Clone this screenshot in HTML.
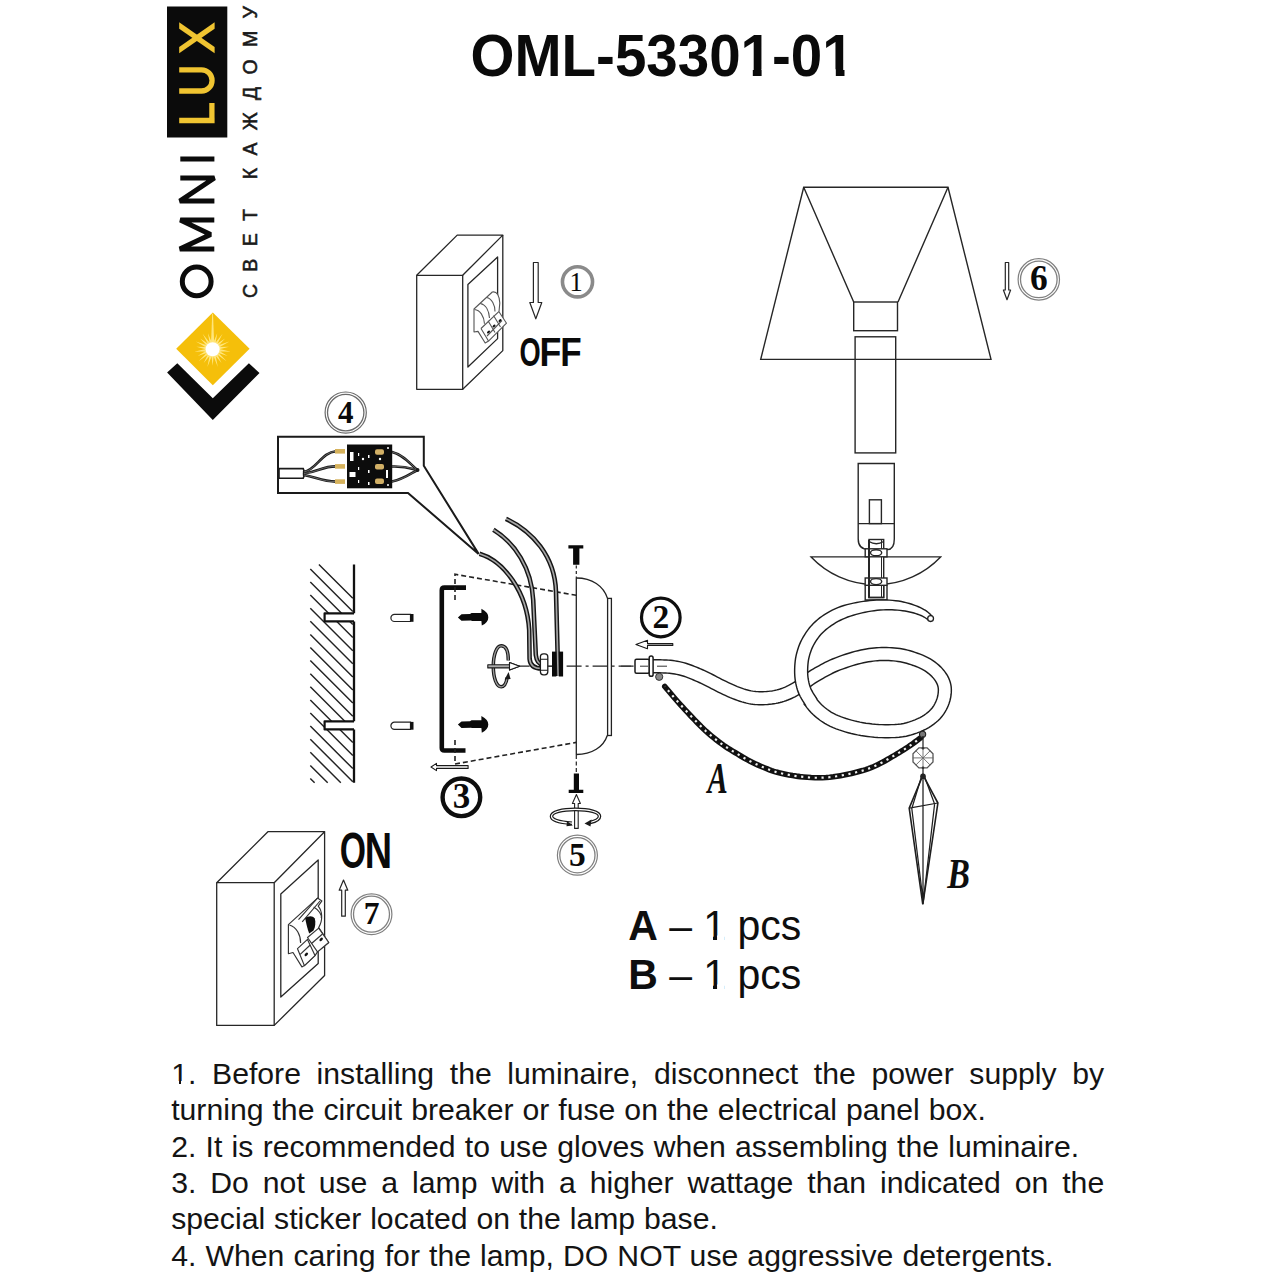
<!DOCTYPE html>
<html><head><meta charset="utf-8">
<style>
html,body{margin:0;padding:0;background:#fff;}
body{width:1280px;height:1280px;position:relative;overflow:hidden;font-family:"Liberation Sans",sans-serif;}
svg{position:absolute;left:0;top:0;}
.t{position:absolute;white-space:nowrap;color:#151515;font-family:"Liberation Sans",sans-serif;font-size:30px;line-height:36px;left:171.2px;color:#141414;}
</style></head><body>
<svg width="1280" height="1280" viewBox="0 0 1280 1280">
<rect x="167" y="6.5" width="60.3" height="131" fill="#0b0b0b"/>
<g fill="none" stroke="#f0c431" stroke-width="5.3">
  <path d="M179.2 120.5H214.6M211.9 123.2V103.1"/>
  <path d="M179.2 69.9H201.5A10.55 10.55 0 0 1 201.5 91H179.2"/>
</g>
<path d="M179.2 22.3L179.2 28.7L214.6 53.3L214.6 46.9Z" fill="#f0c431"/><path d="M179.2 53.3L179.2 46.9L214.6 22.3L214.6 28.7Z" fill="#f0c431"/>
<g fill="none" stroke="#0b0b0b" stroke-width="5" stroke-linejoin="bevel">
  <path d="M180.3 159.1H214.4"/>
  <path d="M180.3 178H214.4L179.8 201.1H214.4"/>
  <path d="M214.3 219.9H180.3L210.6 234.6L179.8 249.1H214.3"/>
  <circle cx="196.7" cy="281.4" r="14.4"/>
</g>
<path d="M212.8 312.6L249.6 348.8L212.8 385.3L176.2 348.8Z" fill="#f5bf0a"/>
<path d="M167.1 372.6L177.3 363.3L212.8 398.3L248.9 363.3L259.5 373.1L212.8 419.9Z" fill="#0b0b0b"/>
<path d="M213.85 343.20L212.60 330.70L211.35 343.20ZM215.49 343.80L217.25 333.37L213.09 343.09ZM216.90 344.83L222.60 333.64L214.79 343.48ZM217.95 346.22L225.07 338.39L216.32 344.33ZM218.58 347.84L229.43 341.51L217.54 345.57ZM218.72 349.58L228.93 346.85L218.36 347.11ZM218.36 351.29L230.91 351.83L218.72 348.82ZM217.54 352.83L227.61 356.05L218.58 350.56ZM216.32 354.07L226.58 361.31L217.95 352.18ZM214.79 354.92L221.52 363.08L216.90 353.57ZM213.09 355.31L217.81 366.95L215.49 354.60ZM211.35 355.20L212.60 365.70L213.85 355.20ZM209.71 354.60L207.39 366.95L212.11 355.31ZM208.30 353.57L203.68 363.08L210.41 354.92ZM207.25 352.18L198.62 361.31L208.88 354.07ZM206.62 350.56L197.59 356.05L207.66 352.83ZM206.48 348.82L194.29 351.83L206.84 351.29ZM206.84 347.11L196.27 346.85L206.48 349.58ZM207.66 345.57L195.77 341.51L206.62 347.84ZM208.88 344.33L200.13 338.39L207.25 346.22ZM210.41 343.48L202.60 333.64L208.30 344.83ZM212.11 343.09L207.95 333.37L209.71 343.80Z" fill="#ffe57a"/>
<path d="M210.79999999999998 349.2L212.2 313.8L213.0 313.8L214.4 349.2Z" fill="#ffe57a"/>
<circle cx="212.6" cy="349.2" r="7" fill="#fff"/>
<text transform="translate(257 298) rotate(-90)" font-family="Liberation Sans" font-size="19.5" fill="#1a1a1a" stroke="#1a1a1a" stroke-width="0.55" textLength="292" lengthAdjust="spacing">СВЕТ КАЖДОМУ</text>
<text x="0" y="0" transform="translate(470.6 75.6) scale(1 1.04)" font-family="Liberation Sans" font-weight="bold" font-size="56.5" fill="#0a0a0a">OML-53301-01</text>
<g fill="#fff"><rect x="742" y="69.4" width="10.8" height="8"/><rect x="761.6" y="69.4" width="10.5" height="8"/><rect x="825" y="69.4" width="10.8" height="8"/><rect x="844.5" y="69.4" width="10.5" height="8"/></g>
<g fill="none" stroke="#262626" stroke-width="1.3" stroke-linejoin="round">
<path d="M416.7 275.3H462.7V389.3H416.7Z"/>
<path d="M416.7 275.3L457.2 235.1H502.8L462.7 275.3"/>
<path d="M502.8 235.1V350.6L462.7 389.3"/>
<path d="M467.9 284.5L497.6 257V338.6L467.9 367Z"/>
</g>
<g fill="#fff" stroke="#555" stroke-width="1.1" stroke-linejoin="round">
<path d="M474 309L492.3 292C497 291 499.5 296 499.8 303L499 311.7L506.5 323.2L489 340.7L485.2 343L478 331.4L474 332Z"/>
<path d="M474.5 309.5C480 310 484 316 484.5 323.8M480.3 303.5C486 304.5 489 311 489.5 318M486.5 297.5C492 298.5 495 305 495 311.5" fill="none"/>
<path d="M481 328.5L498.8 311.7M487 336L502 320.5M481 328.5L488.5 341M488 320.8L495 332.5M493.5 315.5L500.5 327" fill="none"/>
</g>
<g fill="#111"><ellipse cx="488.5" cy="332" rx="1.8" ry="1.1" transform="rotate(-45 488.5 332)"/><ellipse cx="494" cy="326" rx="1.8" ry="1.1" transform="rotate(-45 494 326)"/><ellipse cx="500" cy="320.5" rx="1.8" ry="1.1" transform="rotate(-45 500 320.5)"/></g>
<path d="M533.4 262.5H538.2V302.5H541.8L535.8 318.8L529.8 302.5H533.4Z" fill="#fff" stroke="#262626" stroke-width="1.2" stroke-linejoin="round"/>
<circle cx="577.5" cy="281.8" r="15.05" fill="#fff" stroke="#8a8a8a" stroke-width="3.6"/><text x="576.1" y="290.6" text-anchor="middle" font-family="Liberation Serif" font-weight="normal" font-size="26.5" fill="#0a0a0a">1</text>
<text x="0" y="0" transform="translate(519.4 366.2) scale(0.667 1)" font-family="Liberation Sans" font-weight="bold" font-size="40.8" fill="#0a0a0a">O</text>
<text x="0" y="0" transform="translate(539.6 366.2) scale(0.877 1)" font-family="Liberation Sans" font-weight="bold" font-size="40.8" fill="#0a0a0a">F</text>
<text x="0" y="0" transform="translate(560.2 366.2) scale(0.86 1)" font-family="Liberation Sans" font-weight="bold" font-size="40.8" fill="#0a0a0a">F</text>
<g fill="none" stroke="#262626" stroke-width="1.4" stroke-linejoin="miter">
<path d="M803.7 187.3H948L991 359.4H760.7Z"/>
<path d="M803.7 187.3L853.7 302M948 187.3L898 302"/>
<rect x="853.7" y="302" width="43.8" height="28.7"/>
<rect x="855.1" y="336.8" width="40.6" height="116.1"/>
</g>
<path d="M1005.3 262.5H1008.7V290H1010.6L1007 299.7L1003.4 290H1005.3Z" fill="#fff" stroke="#262626" stroke-width="1.2" stroke-linejoin="round"/>
<circle cx="1038.8" cy="279.4" r="18.3" fill="#fff" stroke="#808080" stroke-width="1.3"/><circle cx="1038.8" cy="279.4" r="20.700000000000003" fill="none" stroke="#808080" stroke-width="1.2"/><text x="1038.8" y="290.4" text-anchor="middle" font-family="Liberation Serif" font-weight="bold" font-size="35.5" fill="#0a0a0a">6</text>
<g fill="none" stroke="#262626" stroke-width="1.4">
<path d="M858.2 463.5H894.3V539Q894.3 549.6 887.3 549.6H869.1Q858.2 549.6 858.2 539Z"/>
<path d="M858.2 523.6H894.3"/>
<rect x="869.4" y="499.8" width="12" height="23.8"/>
<path d="M811.1 556.9H940.6A89.4 89.4 0 0 1 811.1 556.9Z" fill="#fff"/>
<rect x="869" y="539.5" width="14.7" height="58" fill="#fff"/>
<path d="M869 541.5Q876.3 546 883.7 541.5"/>
<path d="M881.5 540V597" stroke-width="1"/>
<rect x="865.2" y="548.8" width="21.8" height="8" fill="#fff"/>
<ellipse cx="876.1" cy="552.8" rx="5.6" ry="3"/>
<rect x="865.2" y="578" width="21.8" height="7.3" fill="#fff"/>
<ellipse cx="876.1" cy="581.6" rx="5.6" ry="3"/>
<path d="M865.2 585.3V600H887V585.3"/>
<path d="M869 585.3V597.5H883.7V585.3"/>
<path d="M869 540V597.5" stroke-width="2"/>
</g>
<path d="M278 436.8H423.8V465.7L478.6 553.9L408 493H278Z" fill="#fff" stroke="#1a1a1a" stroke-width="2" stroke-linejoin="miter"/>
<g>
<path d="M279 468.6H303.2L305 473.4L303.2 478.2H279Z" fill="#fff" stroke="#1a1a1a" stroke-width="1.6"/>
<g fill="none" stroke="#1a1a1a" stroke-width="2.6" stroke-linecap="round">
<path d="M304 472C316 470 322 452 336 451.2"/>
<path d="M304 473.5C318 472 322 466.4 336 466.4"/>
<path d="M304 475C316 477 322 481.6 336 481.6"/>
<path d="M392 452C404 455 410 464 417.5 470"/>
<path d="M392 466.5C404 466 410 468 417.5 470"/>
<path d="M392 481.5C404 479 410 474 417.5 470"/>
</g>
<g fill="none" stroke="#777" stroke-width="0.8">
<path d="M304 472C316 470 322 452 336 451.2"/>
<path d="M304 473.5C318 472 322 466.4 336 466.4"/>
<path d="M304 475C316 477 322 481.6 336 481.6"/>
<path d="M392 452C404 455 410 464 417.5 470"/>
<path d="M392 466.5C404 466 410 468 417.5 470"/>
<path d="M392 481.5C404 479 410 474 417.5 470"/>
</g>
<circle cx="417.5" cy="470" r="2" fill="#1a1a1a"/>
<g fill="#d6b25c"><rect x="335" y="449" width="10" height="4.6"/><rect x="335" y="464.1" width="10" height="4.6"/><rect x="335" y="479.3" width="10" height="4.6"/></g>
<rect x="347" y="444.5" width="45.2" height="43.8" fill="#0c0c0c"/>
<g fill="#fff"><rect x="350" y="452" width="3.5" height="9"/><rect x="349.5" y="472" width="6" height="5"/><rect x="358" y="453" width="1.2" height="3"/><rect x="358" y="467" width="1.2" height="3"/><rect x="358" y="480" width="1.2" height="3"/><rect x="368" y="455" width="1.5" height="3"/><rect x="368" y="470" width="1.5" height="3"/><rect x="368" y="482" width="1.5" height="3"/><circle cx="363" cy="459" r="1.2"/><circle cx="380" cy="459" r="1.2"/><circle cx="388" cy="448" r="1"/><circle cx="388" cy="485" r="1"/><rect x="386" y="470" width="2" height="8"/></g>
<g fill="#d2b066"><rect x="375" y="449.3" width="9" height="5.5" rx="2"/><rect x="375" y="463.9" width="9" height="5.5" rx="2"/><rect x="375" y="478.5" width="9" height="5.5" rx="2"/></g>
</g>
<circle cx="345.7" cy="412.6" r="18.2" fill="#fff" stroke="#6a6a6a" stroke-width="1.3"/><circle cx="345.7" cy="412.6" r="20.6" fill="none" stroke="#6a6a6a" stroke-width="1.2"/><text x="345.7" y="423.1" text-anchor="middle" font-family="Liberation Serif" font-weight="bold" font-size="31" fill="#0a0a0a">4</text>
<path d="M318.9 564.4L352.8 598.3M310.3 568.9L352.8 611.4M310.3 582.0L352.8 624.5M310.3 595.1L352.8 637.6M310.3 608.2L352.8 650.7M310.3 621.3L352.8 663.8M310.3 634.4L352.8 676.9M310.3 647.5L352.8 690.0M310.3 660.6L352.8 703.1M310.3 673.7L352.8 716.2M310.3 686.8L352.8 729.3M310.3 699.9L352.8 742.4M310.3 713.0L352.8 755.5M310.3 726.1L352.8 768.6M310.3 739.2L352.8 781.7M310.3 752.3L340.8 782.8M310.3 765.4L327.7 782.8M310.3 778.5L314.6 782.8" stroke="#222" stroke-width="1.45" fill="none"/>
<g fill="#fff" stroke="#111" stroke-width="2.2" stroke-linejoin="round">
<path d="M354 613.3H324.6V621.4H354"/>
<path d="M354 721.3H324.6V729.4H354"/>
</g>
<path d="M354 564.4V613.3M354 621.4V721.3M354 729.4V782.8" stroke="#111" stroke-width="2.3" fill="none"/>
<g fill="#fff" stroke="#222" stroke-width="1.2">
<path d="M394.5 614.3H410.5V621.5H394.5A3.6 3.6 0 0 1 394.5 614.3Z"/>
<path d="M394.5 722.2H410.5V729.4H394.5A3.6 3.6 0 0 1 394.5 722.2Z"/>
</g>
<g fill="#111"><rect x="410.3" y="614" width="3.2" height="7.8"/><rect x="410.3" y="721.9" width="3.2" height="7.8"/></g>
<path d="M466 587.6H444.4Q441.8 587.6 441.8 590.2V748Q441.8 750.5 444.4 750.5H465.5" fill="none" stroke="#0c0c0c" stroke-width="4.6"/>
<path d="M457.9 617.4 L461.5 614.1999999999999 L470 614.1 L471.5 613.1 L481.4 613.1 L481.4 608.6999999999999 Q488.6 612.4 488.3 617.4 Q488.3 622.1999999999999 481.8 625.6 L481.4 620.9 L472 620.9 L471 620.6 L461.5 620.6999999999999 Z" fill="#0a0a0a"/>
<path d="M457.9 724.6 L461.5 721.4 L470 721.3000000000001 L471.5 720.3000000000001 L481.4 720.3000000000001 L481.4 715.9 Q488.6 719.6 488.3 724.6 Q488.3 729.4 481.8 732.8000000000001 L481.4 728.1 L472 728.1 L471 727.8000000000001 L461.5 727.9 Z" fill="#0a0a0a"/>
<g fill="none" stroke="#222" stroke-width="1.6" stroke-dasharray="5 3">
<path d="M455 600V574.3L576.3 595.3"/>
<path d="M455 740V764L576.3 742.4"/>
</g>
<g fill="none" stroke="#222" stroke-width="1.3">
<path d="M576.3 578C592 578 603.5 586 607.5 598.4"/>
<path d="M607.3 735.5C603.5 747 592 754.5 576.3 754.5"/>
<rect x="607.6" y="598.4" width="3.8" height="137.1" fill="#fff"/>
<path d="M576.3 578V755"/>
</g>
<path d="M576.3 565.5V578" stroke="#222" stroke-width="1.2" stroke-dasharray="3 2.5"/><path d="M576.3 755V772" stroke="#222" stroke-width="1.2" stroke-dasharray="4 2.5"/>
<path d="M568.4 545.3H583.3V548.6H579.4V564.8H573.1V548.6H568.4Z" fill="#0a0a0a"/>
<path d="M573.8 773.4H579V789.7H583.3V793H568.7V789.7H573.8Z" fill="#0a0a0a"/>
<path d="M576.4 794.5L580.4 803.5H578.2V828.4H574.6V803.5H572.4Z" fill="#fff" stroke="#222" stroke-width="1.1" stroke-linejoin="round"/>
<g fill="none">
<path d="M572 823.2C558 822.5 551.5 819.5 551.5 816.3C551.5 812 562 809.4 575.5 809.4C589 809.4 599.5 812 599.5 816.3C599.5 819 596 821.3 590 822.5" stroke="#1a1a1a" stroke-width="3.6"/>
<path d="M572 823.2C558 822.5 551.5 819.5 551.5 816.3C551.5 812 562 809.4 575.5 809.4C589 809.4 599.5 812 599.5 816.3C599.5 819 596 821.3 590 822.5" stroke="#fff" stroke-width="1.2"/>
</g>
<path d="M584.5 823.6L591.5 819.5L590.5 826.5Z" fill="#1a1a1a"/>
<path d="M567 821L572.8 825.5L566.5 826.2Z" fill="#1a1a1a"/>
<circle cx="577.4" cy="855.2" r="17.599999999999998" fill="#fff" stroke="#808080" stroke-width="1.3"/><circle cx="577.4" cy="855.2" r="20.0" fill="none" stroke="#808080" stroke-width="1.2"/><text x="577.4" y="865.8000000000001" text-anchor="middle" font-family="Liberation Serif" font-weight="bold" font-size="33.5" fill="#0a0a0a">5</text>
<path d="M488.6 666.2H666" stroke="#222" stroke-width="1.2" stroke-dasharray="15 4 3 4" fill="none"/>
<path d="M508.3 660.5C508.3 651 505.5 645.8 501.2 645.8C496.5 645.8 493.3 655 493.3 666.3C493.3 678 496.5 686.8 501.2 686.8C504.2 686.8 506.3 683 507.2 677.5" fill="none" stroke="#1a1a1a" stroke-width="3.5"/>
<path d="M508.3 660.5C508.3 651 505.5 645.8 501.2 645.8C496.5 645.8 493.3 655 493.3 666.3C493.3 678 496.5 686.8 501.2 686.8C504.2 686.8 506.3 683 507.2 677.5" fill="none" stroke="#9a9a9a" stroke-width="1.3"/>
<path d="M504.6 679.5L510.6 679L508.6 672Z" fill="#1a1a1a"/>
<path d="M487.8 664.7H509.5V662.6L519.6 666.3L509.5 670V667.9H487.8Z" fill="#aaa" stroke="#1a1a1a" stroke-width="1.1" stroke-linejoin="round"/>
<path d="M509.5 662.6L519.6 666.3L509.5 670Z" fill="#fff" stroke="#1a1a1a" stroke-width="1.1" stroke-linejoin="round"/>
<path d="M479.5 553.8C504 561 527 592 529.2 630L529.6 659Q530.5 668.5 541.5 668.5" fill="none" stroke="#161616" stroke-width="4.6"/>
<path d="M493.4 529.7C515 543 531.5 568 533.2 600L535.8 655Q537 664 542 664" fill="none" stroke="#161616" stroke-width="4.6"/>
<path d="M505.9 518.8C532 531 555 556 556 592L558.2 676" fill="none" stroke="#161616" stroke-width="4.6"/>
<path d="M479.5 553.8C504 561 527 592 529.2 630L529.6 659Q530.5 668.5 541.5 668.5" fill="none" stroke="#a5a5a5" stroke-width="1.7"/>
<path d="M493.4 529.7C515 543 531.5 568 533.2 600L535.8 655Q537 664 542 664" fill="none" stroke="#a5a5a5" stroke-width="1.7"/>
<path d="M505.9 518.8C532 531 555 556 556 592L558.2 676" fill="none" stroke="#a5a5a5" stroke-width="1.7"/>
<rect x="540.4" y="653.8" width="7.4" height="21" rx="3" fill="#fff" stroke="#1a1a1a" stroke-width="1.3"/>
<path d="M540.4 659.2H547.8M540.4 670.2H547.8" stroke="#1a1a1a" stroke-width="1.1"/>
<path d="M547.8 666.3H552" stroke="#333" stroke-width="1"/>
<rect x="552" y="651.6" width="4.3" height="24.9" fill="#0a0a0a"/>
<rect x="558.8" y="651.6" width="4.3" height="24.9" fill="#0a0a0a"/>
<path d="M431 767L436.5 763.4V765.6H468.1V768.4H436.5V770.6Z" fill="#fff" stroke="#1a1a1a" stroke-width="1.1" stroke-linejoin="round"/>
<circle cx="461.4" cy="797.3" r="18.8" fill="#fff" stroke="#0e0e0e" stroke-width="4.4"/><text x="461.4" y="808.3" text-anchor="middle" font-family="Liberation Serif" font-weight="bold" font-size="35" fill="#0a0a0a">3</text>
<path d="M635.9 644.5L647.5 640.2V643.6H672.8V645.4H647.5V648.8Z" fill="#fff" stroke="#1a1a1a" stroke-width="1.1" stroke-linejoin="round"/>
<circle cx="660.8" cy="617.5" r="19.3" fill="#fff" stroke="#0e0e0e" stroke-width="3.2"/><text x="660.8" y="627.9" text-anchor="middle" font-family="Liberation Serif" font-weight="bold" font-size="33.5" fill="#0a0a0a">2</text>
<path d="M647.98 672.70L649.30 672.70L651.11 672.70L653.23 672.71L655.50 672.72L657.74 672.75L659.82 672.80L661.80 672.86L663.77 672.92L665.69 672.99L667.56 673.10L669.37 673.24L671.17 673.45L673.00 673.71L674.84 674.02L676.69 674.38L678.52 674.78L680.35 675.23L682.17 675.74L683.97 676.30L685.80 676.93L687.67 677.63L689.58 678.38L691.52 679.18L693.48 679.99L695.41 680.81L697.31 681.65L699.22 682.52L701.15 683.42L703.13 684.36L705.13 685.33L707.14 686.34L709.20 687.41L711.34 688.54L713.55 689.71L715.82 690.88L718.13 692.03L720.46 693.16L722.83 694.30L725.26 695.45L727.72 696.57L730.18 697.65L732.61 698.64L734.98 699.55L737.34 700.40L739.68 701.19L741.99 701.92L744.28 702.57L746.52 703.13L748.67 703.59L750.75 703.97L752.77 704.25L754.76 704.46L756.75 704.60L758.79 704.70L760.93 704.74L763.12 704.71L765.33 704.63L767.53 704.49L769.71 704.29L771.84 704.05L773.92 703.74L775.98 703.39L778.01 702.98L780.02 702.51L782.00 701.98L783.96 701.40L785.90 700.75L787.81 700.03L789.67 699.27L791.48 698.48L793.24 697.64L794.97 696.78L796.67 695.88L798.32 694.95L799.92 693.99L801.49 692.99L803.07 691.95L804.72 690.83L806.47 689.58L808.21 688.25L809.88 686.93L811.51 685.66L813.08 684.48L814.64 683.39L816.24 682.34L817.90 681.31L819.60 680.29L821.36 679.28L823.18 678.26L825.12 677.20L827.10 676.12L829.05 675.06L831.00 674.03L833.01 673.01L835.14 672.01L837.48 671.01L840.16 669.95L843.15 668.83L846.31 667.70L849.51 666.62L852.63 665.62L855.54 664.75L858.27 664.00L860.93 663.34L863.52 662.76L866.06 662.26L868.53 661.81L870.95 661.43L873.25 661.12L875.42 660.88L877.53 660.70L879.62 660.59L881.76 660.52L884.00 660.50L886.33 660.52L888.71 660.59L891.10 660.71L893.46 660.88L895.78 661.12L898.01 661.42L900.19 661.80L902.34 662.24L904.47 662.74L906.60 663.31L908.74 663.95L910.92 664.66L913.18 665.44L915.47 666.29L917.72 667.19L919.88 668.13L921.88 669.10L923.70 670.10L925.40 671.17L927.06 672.34L928.64 673.57L930.12 674.84L931.48 676.12L932.70 677.38L933.77 678.62L934.72 679.87L935.57 681.14L936.30 682.40L936.93 683.64L937.43 684.82L937.80 685.91L938.06 686.95L938.23 687.99L938.33 689.08L938.36 690.29L938.31 691.61L938.19 693.03L937.99 694.51L937.71 696.02L937.33 697.53L936.87 699.02L936.29 700.52L935.59 702.11L934.80 703.73L933.94 705.29L932.99 706.78L931.95 708.19L930.76 709.55L929.36 710.95L927.77 712.36L926.04 713.74L924.17 715.07L922.16 716.34L919.99 717.54L917.60 718.71L914.99 719.86L912.23 720.94L909.38 721.92L906.51 722.76L903.69 723.43L900.84 723.93L897.86 724.29L894.75 724.52L891.56 724.65L888.30 724.70L885.06 724.70L881.86 724.64L878.64 724.49L875.41 724.26L872.20 723.96L869.03 723.59L865.95 723.17L862.97 722.69L860.05 722.16L857.20 721.56L854.39 720.89L851.61 720.17L848.86 719.37L846.11 718.52L843.39 717.61L840.74 716.66L838.20 715.65L835.80 714.59L833.57 713.47L831.45 712.26L829.38 710.93L827.37 709.51L825.43 708.02L823.59 706.51L821.94 705.05L820.43 703.55L818.91 701.84L817.42 700.01L816.05 698.24L814.83 696.65L813.89 695.46L803.71 703.54L804.56 704.61L805.75 706.17L807.25 708.11L809.01 710.26L810.98 712.48L813.06 714.55L815.16 716.40L817.34 718.20L819.66 719.98L822.12 721.72L824.71 723.38L827.43 724.93L830.26 726.35L833.17 727.64L836.14 728.82L839.13 729.90L842.13 730.90L845.14 731.83L848.17 732.70L851.24 733.51L854.37 734.24L857.54 734.91L860.77 735.51L864.05 736.03L867.40 736.49L870.84 736.89L874.34 737.22L877.88 737.47L881.43 737.63L884.94 737.70L888.41 737.70L891.93 737.64L895.50 737.50L899.11 737.23L902.73 736.79L906.31 736.17L909.85 735.33L913.32 734.31L916.71 733.15L919.97 731.87L923.08 730.50L926.01 729.06L928.78 727.53L931.40 725.87L933.86 724.13L936.15 722.30L938.26 720.42L940.24 718.45L942.08 716.34L943.71 714.14L945.11 711.93L946.33 709.73L947.37 707.60L948.31 705.48L949.15 703.28L949.85 701.03L950.41 698.80L950.82 696.60L951.11 694.46L951.29 692.39L951.36 690.37L951.31 688.36L951.13 686.33L950.78 684.28L950.26 682.22L949.57 680.18L948.72 678.17L947.73 676.19L946.58 674.24L945.30 672.31L943.86 670.43L942.30 668.62L940.62 666.87L938.81 665.16L936.86 663.50L934.79 661.89L932.60 660.35L930.30 658.90L927.85 657.55L925.31 656.32L922.72 655.19L920.13 654.15L917.57 653.21L915.08 652.34L912.61 651.54L910.14 650.80L907.65 650.13L905.14 649.54L902.59 649.02L899.99 648.58L897.32 648.21L894.61 647.93L891.90 647.73L889.22 647.60L886.57 647.52L884.00 647.50L881.51 647.52L879.06 647.60L876.63 647.73L874.17 647.94L871.65 648.21L869.05 648.57L866.37 648.99L863.63 649.48L860.82 650.05L857.94 650.69L854.99 651.42L851.96 652.25L848.78 653.20L845.44 654.27L842.04 655.42L838.69 656.62L835.49 657.82L832.52 658.99L829.82 660.15L827.33 661.32L825.03 662.47L822.89 663.61L820.87 664.71L818.88 665.80L816.89 666.88L814.94 667.98L813.02 669.08L811.13 670.21L809.26 671.38L807.36 672.61L805.45 673.95L803.60 675.34L801.87 676.70L800.24 677.97L798.73 679.13L797.28 680.17L795.84 681.14L794.43 682.07L793.08 682.93L791.76 683.72L790.42 684.48L789.03 685.22L787.57 685.95L786.08 686.65L784.58 687.31L783.08 687.93L781.57 688.49L780.04 689.00L778.48 689.47L776.87 689.89L775.24 690.27L773.58 690.61L771.88 690.91L770.16 691.15L768.38 691.36L766.54 691.53L764.67 691.65L762.80 691.72L760.98 691.74L759.21 691.70L757.51 691.63L755.90 691.51L754.36 691.35L752.81 691.13L751.20 690.84L749.48 690.47L747.64 690.01L745.71 689.46L743.70 688.83L741.63 688.13L739.51 687.37L737.39 686.56L735.25 685.68L733.02 684.71L730.74 683.66L728.43 682.57L726.12 681.46L723.87 680.37L721.71 679.29L719.57 678.18L717.41 677.05L715.24 675.90L713.05 674.76L710.87 673.67L708.76 672.64L706.70 671.66L704.66 670.71L702.62 669.78L700.57 668.88L698.52 668.01L696.48 667.16L694.42 666.32L692.33 665.50L690.20 664.70L688.03 663.95L685.83 663.26L683.65 662.66L681.48 662.12L679.31 661.65L677.16 661.23L675.00 660.87L672.83 660.55L670.63 660.30L668.44 660.13L666.31 660.01L664.23 659.93L662.20 659.86L660.18 659.80L657.98 659.75L655.61 659.72L653.27 659.71L651.11 659.70L649.31 659.70L648.02 659.70Z" fill="#fff"/>
<path d="M647.98 672.70L649.30 672.70L651.11 672.70L653.23 672.71L655.50 672.72L657.74 672.75L659.82 672.80L661.80 672.86L663.77 672.92L665.69 672.99L667.56 673.10L669.37 673.24L671.17 673.45L673.00 673.71L674.84 674.02L676.69 674.38L678.52 674.78L680.35 675.23L682.17 675.74L683.97 676.30L685.80 676.93L687.67 677.63L689.58 678.38L691.52 679.18L693.48 679.99L695.41 680.81L697.31 681.65L699.22 682.52L701.15 683.42L703.13 684.36L705.13 685.33L707.14 686.34L709.20 687.41L711.34 688.54L713.55 689.71L715.82 690.88L718.13 692.03L720.46 693.16L722.83 694.30L725.26 695.45L727.72 696.57L730.18 697.65L732.61 698.64L734.98 699.55L737.34 700.40L739.68 701.19L741.99 701.92L744.28 702.57L746.52 703.13L748.67 703.59L750.75 703.97L752.77 704.25L754.76 704.46L756.75 704.60L758.79 704.70L760.93 704.74L763.12 704.71L765.33 704.63L767.53 704.49L769.71 704.29L771.84 704.05L773.92 703.74L775.98 703.39L778.01 702.98L780.02 702.51L782.00 701.98L783.96 701.40L785.90 700.75L787.81 700.03L789.67 699.27L791.48 698.48L793.24 697.64L794.97 696.78L796.67 695.88L798.32 694.95L799.92 693.99L801.49 692.99L803.07 691.95L804.72 690.83L806.47 689.58L808.21 688.25L809.88 686.93L811.51 685.66L813.08 684.48L814.64 683.39L816.24 682.34L817.90 681.31L819.60 680.29L821.36 679.28L823.18 678.26L825.12 677.20L827.10 676.12L829.05 675.06L831.00 674.03L833.01 673.01L835.14 672.01L837.48 671.01L840.16 669.95L843.15 668.83L846.31 667.70L849.51 666.62L852.63 665.62L855.54 664.75L858.27 664.00L860.93 663.34L863.52 662.76L866.06 662.26L868.53 661.81L870.95 661.43L873.25 661.12L875.42 660.88L877.53 660.70L879.62 660.59L881.76 660.52L884.00 660.50L886.33 660.52L888.71 660.59L891.10 660.71L893.46 660.88L895.78 661.12L898.01 661.42L900.19 661.80L902.34 662.24L904.47 662.74L906.60 663.31L908.74 663.95L910.92 664.66L913.18 665.44L915.47 666.29L917.72 667.19L919.88 668.13L921.88 669.10L923.70 670.10L925.40 671.17L927.06 672.34L928.64 673.57L930.12 674.84L931.48 676.12L932.70 677.38L933.77 678.62L934.72 679.87L935.57 681.14L936.30 682.40L936.93 683.64L937.43 684.82L937.80 685.91L938.06 686.95L938.23 687.99L938.33 689.08L938.36 690.29L938.31 691.61L938.19 693.03L937.99 694.51L937.71 696.02L937.33 697.53L936.87 699.02L936.29 700.52L935.59 702.11L934.80 703.73L933.94 705.29L932.99 706.78L931.95 708.19L930.76 709.55L929.36 710.95L927.77 712.36L926.04 713.74L924.17 715.07L922.16 716.34L919.99 717.54L917.60 718.71L914.99 719.86L912.23 720.94L909.38 721.92L906.51 722.76L903.69 723.43L900.84 723.93L897.86 724.29L894.75 724.52L891.56 724.65L888.30 724.70L885.06 724.70L881.86 724.64L878.64 724.49L875.41 724.26L872.20 723.96L869.03 723.59L865.95 723.17L862.97 722.69L860.05 722.16L857.20 721.56L854.39 720.89L851.61 720.17L848.86 719.37L846.11 718.52L843.39 717.61L840.74 716.66L838.20 715.65L835.80 714.59L833.57 713.47L831.45 712.26L829.38 710.93L827.37 709.51L825.43 708.02L823.59 706.51L821.94 705.05L820.43 703.55L818.91 701.84L817.42 700.01L816.05 698.24L814.83 696.65L813.89 695.46" fill="none" stroke="#1e1e1e" stroke-width="1.45"/>
<path d="M648.02 659.70L649.31 659.70L651.11 659.70L653.27 659.71L655.61 659.72L657.98 659.75L660.18 659.80L662.20 659.86L664.23 659.93L666.31 660.01L668.44 660.13L670.63 660.30L672.83 660.55L675.00 660.87L677.16 661.23L679.31 661.65L681.48 662.12L683.65 662.66L685.83 663.26L688.03 663.95L690.20 664.70L692.33 665.50L694.42 666.32L696.48 667.16L698.52 668.01L700.57 668.88L702.62 669.78L704.66 670.71L706.70 671.66L708.76 672.64L710.87 673.67L713.05 674.76L715.24 675.90L717.41 677.05L719.57 678.18L721.71 679.29L723.87 680.37L726.12 681.46L728.43 682.57L730.74 683.66L733.02 684.71L735.25 685.68L737.39 686.56L739.51 687.37L741.63 688.13L743.70 688.83L745.71 689.46L747.64 690.01L749.48 690.47L751.20 690.84L752.81 691.13L754.36 691.35L755.90 691.51L757.51 691.63L759.21 691.70L760.98 691.74L762.80 691.72L764.67 691.65L766.54 691.53L768.38 691.36L770.16 691.15L771.88 690.91L773.58 690.61L775.24 690.27L776.87 689.89L778.48 689.47L780.04 689.00L781.57 688.49L783.08 687.93L784.58 687.31L786.08 686.65L787.57 685.95L789.03 685.22L790.42 684.48L791.76 683.72L793.08 682.93L794.43 682.07L795.84 681.14L797.28 680.17L798.73 679.13L800.24 677.97L801.87 676.70L803.60 675.34L805.45 673.95L807.36 672.61L809.26 671.38L811.13 670.21L813.02 669.08L814.94 667.98L816.89 666.88L818.88 665.80L820.87 664.71L822.89 663.61L825.03 662.47L827.33 661.32L829.82 660.15L832.52 658.99L835.49 657.82L838.69 656.62L842.04 655.42L845.44 654.27L848.78 653.20L851.96 652.25L854.99 651.42L857.94 650.69L860.82 650.05L863.63 649.48L866.37 648.99L869.05 648.57L871.65 648.21L874.17 647.94L876.63 647.73L879.06 647.60L881.51 647.52L884.00 647.50L886.57 647.52L889.22 647.60L891.90 647.73L894.61 647.93L897.32 648.21L899.99 648.58L902.59 649.02L905.14 649.54L907.65 650.13L910.14 650.80L912.61 651.54L915.08 652.34L917.57 653.21L920.13 654.15L922.72 655.19L925.31 656.32L927.85 657.55L930.30 658.90L932.60 660.35L934.79 661.89L936.86 663.50L938.81 665.16L940.62 666.87L942.30 668.62L943.86 670.43L945.30 672.31L946.58 674.24L947.73 676.19L948.72 678.17L949.57 680.18L950.26 682.22L950.78 684.28L951.13 686.33L951.31 688.36L951.36 690.37L951.29 692.39L951.11 694.46L950.82 696.60L950.41 698.80L949.85 701.03L949.15 703.28L948.31 705.48L947.37 707.60L946.33 709.73L945.11 711.93L943.71 714.14L942.08 716.34L940.24 718.45L938.26 720.42L936.15 722.30L933.86 724.13L931.40 725.87L928.78 727.53L926.01 729.06L923.08 730.50L919.97 731.87L916.71 733.15L913.32 734.31L909.85 735.33L906.31 736.17L902.73 736.79L899.11 737.23L895.50 737.50L891.93 737.64L888.41 737.70L884.94 737.70L881.43 737.63L877.88 737.47L874.34 737.22L870.84 736.89L867.40 736.49L864.05 736.03L860.77 735.51L857.54 734.91L854.37 734.24L851.24 733.51L848.17 732.70L845.14 731.83L842.13 730.90L839.13 729.90L836.14 728.82L833.17 727.64L830.26 726.35L827.43 724.93L824.71 723.38L822.12 721.72L819.66 719.98L817.34 718.20L815.16 716.40L813.06 714.55L810.98 712.48L809.01 710.26L807.25 708.11L805.75 706.17L804.56 704.61L803.71 703.54" fill="none" stroke="#1e1e1e" stroke-width="1.45"/>
<path d="M817.01 699.05L816.23 697.81L815.16 696.16L813.97 694.28L812.77 692.32L811.72 690.46L810.94 688.86L810.34 687.35L809.78 685.75L809.30 684.11L808.89 682.43L808.53 680.72L808.22 678.98L807.98 677.26L807.80 675.53L807.69 673.76L807.64 671.96L807.64 670.13L807.70 668.25L807.79 666.35L807.93 664.45L808.12 662.58L808.37 660.73L808.69 658.90L809.11 657.05L809.62 655.13L810.21 653.16L810.88 651.21L811.62 649.27L812.44 647.38L813.36 645.50L814.41 643.60L815.58 641.65L816.83 639.72L818.17 637.84L819.57 636.05L821.02 634.36L822.56 632.74L824.18 631.18L825.90 629.66L827.70 628.20L829.59 626.79L831.58 625.42L833.64 624.05L835.79 622.73L838.02 621.46L840.34 620.26L842.73 619.13L845.20 618.07L847.75 617.05L850.45 616.10L853.27 615.20L856.17 614.37L859.12 613.60L862.08 612.89L865.06 612.24L868.11 611.66L871.18 611.14L874.24 610.70L877.28 610.34L880.25 610.06L883.19 609.88L886.14 609.78L889.08 609.76L891.97 609.81L894.78 609.93L897.47 610.12L900.04 610.36L902.56 610.68L905.02 611.08L907.41 611.53L909.71 612.03L911.88 612.53L913.91 613.06L915.84 613.64L917.67 614.25L919.39 614.88L920.99 615.52L922.41 616.13L923.65 616.77L924.83 617.49L925.95 618.26L926.97 619.02L927.88 619.69L928.61 620.18L931.99 616.22L931.46 615.63L930.71 614.81L929.73 613.80L928.53 612.68L927.14 611.54L925.59 610.47L923.98 609.51L922.27 608.57L920.41 607.64L918.43 606.74L916.33 605.88L914.12 605.07L911.83 604.30L909.40 603.55L906.85 602.83L904.18 602.17L901.40 601.58L898.53 601.08L895.59 600.70L892.55 600.38L889.42 600.14L886.23 599.99L883.00 599.91L879.75 599.94L876.48 600.06L873.17 600.27L869.82 600.57L866.49 600.95L863.18 601.40L859.92 601.91L856.70 602.48L853.46 603.12L850.23 603.84L847.03 604.64L843.88 605.53L840.80 606.53L837.85 607.66L834.98 608.89L832.21 610.20L829.52 611.59L826.92 613.05L824.42 614.58L822.03 616.22L819.72 617.94L817.50 619.74L815.37 621.62L813.33 623.58L811.38 625.64L809.51 627.82L807.74 630.08L806.09 632.40L804.56 634.76L803.14 637.12L801.84 639.50L800.65 641.91L799.58 644.36L798.65 646.79L797.83 649.21L797.12 651.58L796.49 653.95L795.95 656.33L795.53 658.71L795.21 661.04L794.98 663.33L794.81 665.55L794.70 667.75L794.64 669.94L794.64 672.15L794.71 674.36L794.85 676.58L795.07 678.81L795.38 681.02L795.76 683.19L796.22 685.34L796.76 687.52L797.40 689.70L798.15 691.89L799.06 694.14L800.22 696.52L801.56 698.90L802.93 701.16L804.22 703.18L805.27 704.80L805.99 705.95Z" fill="#fff"/>
<path d="M817.01 699.05L816.23 697.81L815.16 696.16L813.97 694.28L812.77 692.32L811.72 690.46L810.94 688.86L810.34 687.35L809.78 685.75L809.30 684.11L808.89 682.43L808.53 680.72L808.22 678.98L807.98 677.26L807.80 675.53L807.69 673.76L807.64 671.96L807.64 670.13L807.70 668.25L807.79 666.35L807.93 664.45L808.12 662.58L808.37 660.73L808.69 658.90L809.11 657.05L809.62 655.13L810.21 653.16L810.88 651.21L811.62 649.27L812.44 647.38L813.36 645.50L814.41 643.60L815.58 641.65L816.83 639.72L818.17 637.84L819.57 636.05L821.02 634.36L822.56 632.74L824.18 631.18L825.90 629.66L827.70 628.20L829.59 626.79L831.58 625.42L833.64 624.05L835.79 622.73L838.02 621.46L840.34 620.26L842.73 619.13L845.20 618.07L847.75 617.05L850.45 616.10L853.27 615.20L856.17 614.37L859.12 613.60L862.08 612.89L865.06 612.24L868.11 611.66L871.18 611.14L874.24 610.70L877.28 610.34L880.25 610.06L883.19 609.88L886.14 609.78L889.08 609.76L891.97 609.81L894.78 609.93L897.47 610.12L900.04 610.36L902.56 610.68L905.02 611.08L907.41 611.53L909.71 612.03L911.88 612.53L913.91 613.06L915.84 613.64L917.67 614.25L919.39 614.88L920.99 615.52L922.41 616.13L923.65 616.77L924.83 617.49L925.95 618.26L926.97 619.02L927.88 619.69L928.61 620.18" fill="none" stroke="#1e1e1e" stroke-width="1.45"/>
<path d="M805.99 705.95L805.27 704.80L804.22 703.18L802.93 701.16L801.56 698.90L800.22 696.52L799.06 694.14L798.15 691.89L797.40 689.70L796.76 687.52L796.22 685.34L795.76 683.19L795.38 681.02L795.07 678.81L794.85 676.58L794.71 674.36L794.64 672.15L794.64 669.94L794.70 667.75L794.81 665.55L794.98 663.33L795.21 661.04L795.53 658.71L795.95 656.33L796.49 653.95L797.12 651.58L797.83 649.21L798.65 646.79L799.58 644.36L800.65 641.91L801.84 639.50L803.14 637.12L804.56 634.76L806.09 632.40L807.74 630.08L809.51 627.82L811.38 625.64L813.33 623.58L815.37 621.62L817.50 619.74L819.72 617.94L822.03 616.22L824.42 614.58L826.92 613.05L829.52 611.59L832.21 610.20L834.98 608.89L837.85 607.66L840.80 606.53L843.88 605.53L847.03 604.64L850.23 603.84L853.46 603.12L856.70 602.48L859.92 601.91L863.18 601.40L866.49 600.95L869.82 600.57L873.17 600.27L876.48 600.06L879.75 599.94L883.00 599.91L886.23 599.99L889.42 600.14L892.55 600.38L895.59 600.70L898.53 601.08L901.40 601.58L904.18 602.17L906.85 602.83L909.40 603.55L911.83 604.30L914.12 605.07L916.33 605.88L918.43 606.74L920.41 607.64L922.27 608.57L923.98 609.51L925.59 610.47L927.14 611.54L928.53 612.68L929.73 613.80L930.71 614.81L931.46 615.63L931.99 616.22" fill="none" stroke="#1e1e1e" stroke-width="1.45"/>
<circle cx="930.6" cy="618.6" r="2.9" fill="#fff" stroke="#1e1e1e" stroke-width="1.3"/>
<g fill="#fff" stroke="#1a1a1a" stroke-width="1.5">
<rect x="635" y="659.2" width="14.5" height="14.1" rx="1.5"/>
<rect x="649.2" y="656" width="3.9" height="20.3" rx="1.9"/>
</g>
<path d="M640 666.2H648M657 666.2H667" stroke="#333" stroke-width="1" fill="none"/>
<path d="M621 666.2H631" stroke="#333" stroke-width="1.1" fill="none"/>
<circle cx="659.2" cy="676.8" r="3.6" fill="#888" stroke="#333" stroke-width="1"/>
<path d="M664.80 686.50L666.22 688.19L668.18 690.52L670.51 693.28L673.03 696.26L675.58 699.24L678.00 702.00L680.33 704.60L682.71 707.23L685.12 709.86L687.54 712.47L689.94 715.02L692.30 717.50L694.60 719.90L696.86 722.25L699.09 724.54L701.34 726.80L703.64 729.01L706.00 731.20L708.46 733.38L711.01 735.56L713.59 737.70L716.18 739.77L718.73 741.75L721.20 743.60L723.57 745.29L725.86 746.83L728.11 748.28L730.36 749.68L732.64 751.07L735.00 752.50L737.44 753.98L739.94 755.49L742.48 756.98L745.03 758.45L747.58 759.86L750.10 761.20L752.61 762.47L755.11 763.68L757.62 764.84L760.11 765.95L762.57 767.00L765.00 768.00L767.30 768.93L769.47 769.79L771.62 770.59L773.85 771.35L776.27 772.08L779.00 772.80L782.08 773.52L785.43 774.24L788.98 774.93L792.64 775.57L796.34 776.13L800.00 776.60L803.66 776.98L807.39 777.31L811.16 777.56L814.94 777.71L818.70 777.77L822.40 777.70L826.05 777.50L829.66 777.18L833.24 776.76L836.82 776.24L840.40 775.65L844.00 775.00L847.70 774.26L851.50 773.43L855.31 772.51L859.01 771.55L862.51 770.57L865.70 769.60L868.51 768.65L871.00 767.70L873.29 766.73L875.49 765.71L877.68 764.65L880.00 763.50L882.43 762.26L884.89 760.93L887.36 759.54L889.81 758.12L892.23 756.70L894.60 755.30L896.91 753.93L899.18 752.57L901.42 751.21L903.63 749.84L905.82 748.44L908.00 747.00L910.30 745.41L912.76 743.66L915.19 741.88L917.43 740.22L919.33 738.81L920.70 737.80" fill="none" stroke="#111" stroke-width="5.6" stroke-linecap="round"/>
<path d="M664.80 686.50L666.22 688.19L668.18 690.52L670.51 693.28L673.03 696.26L675.58 699.24L678.00 702.00L680.33 704.60L682.71 707.23L685.12 709.86L687.54 712.47L689.94 715.02L692.30 717.50L694.60 719.90L696.86 722.25L699.09 724.54L701.34 726.80L703.64 729.01L706.00 731.20L708.46 733.38L711.01 735.56L713.59 737.70L716.18 739.77L718.73 741.75L721.20 743.60L723.57 745.29L725.86 746.83L728.11 748.28L730.36 749.68L732.64 751.07L735.00 752.50L737.44 753.98L739.94 755.49L742.48 756.98L745.03 758.45L747.58 759.86L750.10 761.20L752.61 762.47L755.11 763.68L757.62 764.84L760.11 765.95L762.57 767.00L765.00 768.00L767.30 768.93L769.47 769.79L771.62 770.59L773.85 771.35L776.27 772.08L779.00 772.80L782.08 773.52L785.43 774.24L788.98 774.93L792.64 775.57L796.34 776.13L800.00 776.60L803.66 776.98L807.39 777.31L811.16 777.56L814.94 777.71L818.70 777.77L822.40 777.70L826.05 777.50L829.66 777.18L833.24 776.76L836.82 776.24L840.40 775.65L844.00 775.00L847.70 774.26L851.50 773.43L855.31 772.51L859.01 771.55L862.51 770.57L865.70 769.60L868.51 768.65L871.00 767.70L873.29 766.73L875.49 765.71L877.68 764.65L880.00 763.50L882.43 762.26L884.89 760.93L887.36 759.54L889.81 758.12L892.23 756.70L894.60 755.30L896.91 753.93L899.18 752.57L901.42 751.21L903.63 749.84L905.82 748.44L908.00 747.00L910.30 745.41L912.76 743.66L915.19 741.88L917.43 740.22L919.33 738.81L920.70 737.80" fill="none" stroke="#f0f0f0" stroke-width="2.2" stroke-dasharray="2.2 4.6" stroke-dashoffset="2"/>
<circle cx="922.6" cy="734.3" r="3.1" fill="#777" stroke="#222" stroke-width="1.1"/>
<g fill="none" stroke="#1e1e1e" stroke-width="1.2">
<path d="M923 736V775"/>
<path d="M918.9 747.8L927.1 747.8L933 753.7L933 762L927.1 767.9L918.9 767.9L913 762L913 753.7Z" fill="#fff" stroke="#555" stroke-width="1.3"/>
<path d="M923 747.5V768.5M912.7 757.9H933.3M915.8 750.7L930.2 765.1M930.2 750.7L915.8 765.1" stroke="#666" stroke-width="0.9"/>
<path d="M923 775L909.2 808.2L922.8 904.5L937.9 803Z" fill="#fff" stroke-width="1.6"/>
<path d="M921.5 776.5L911.8 808.5L923 900M924.5 776.5L934.6 804L923.5 900M909.2 808.2L937.9 803M923 776V904" stroke-width="1.25"/>
</g>
<circle cx="923" cy="776.2" r="2.8" fill="#222"/>
<circle cx="923" cy="748.2" r="1.3" fill="#333"/><circle cx="923" cy="767.8" r="1.3" fill="#333"/>
<text x="0" y="0" transform="translate(707.5 792.6) scale(0.70 1)" font-family="Liberation Serif" font-style="italic" font-weight="bold" font-size="43.5" fill="#0e0e0e">A</text>
<text x="0" y="0" transform="translate(947.2 887.6) scale(0.80 1)" font-family="Liberation Serif" font-style="italic" font-weight="bold" font-size="42.5" fill="#0e0e0e">B</text>
<g fill="none" stroke="#262626" stroke-width="1.3" stroke-linejoin="round">
<path d="M216.7 882.7H274.2V1025.4H216.7Z"/>
<path d="M216.7 882.7L267.9 831.7H324.6L274.2 882.7"/>
<path d="M324.6 831.7V975.5L274.2 1025.4"/>
<path d="M280.8 893.9L318.2 859.9V963.5L280.8 997Z"/>
</g>
<g fill="#fff" stroke="#333" stroke-width="1.15" stroke-linejoin="round">
<path d="M288.4 924.7L317.5 898.1L321.9 900.9L318.2 906.2C322.3 911 323.2 920 318.7 927.5L328.7 942.5L317.5 951.9L315 955.6L304.4 965.6L301.9 966.9L293 952.5L288.4 953.7Z"/>
<path d="M289.4 925C296.5 927 300.8 935 300.6 943" fill="none"/>
<path d="M313.7 906.9C319 910 322 915 321.2 918" fill="none"/>
<path d="M298.5 919.6L317.5 898.1M302.2 921.8L320 901" fill="none"/>
<path d="M297.5 948.7L307.5 939.4L315 955.6L304.4 965.6Z"/>
<path d="M300.2 954.4L310.2 945" fill="none"/>
<path d="M307.5 937.5L318.7 928.1L328.7 942.5L317.5 951.9Z"/>
<path d="M311.5 943.5L322.5 934" fill="none"/>
</g>
<path d="M305.2 918.3C308.5 915.8 312.5 915.6 314.8 918.5C315.8 922 315.5 927 313.5 930.5L309.2 933.6C307.5 929 306 923 305.2 918.3Z" fill="#0e0e0e"/>
<g fill="#111"><ellipse cx="306.3" cy="954.4" rx="2.1" ry="1.3" transform="rotate(-45 306.3 954.4)"/><ellipse cx="321.2" cy="939.4" rx="2.1" ry="1.3" transform="rotate(-45 321.2 939.4)"/></g>
<path d="M343.5 880L347.8 890.2H345.3V916.2H341.7V890.2H339.2Z" fill="#fff" stroke="#262626" stroke-width="1.2" stroke-linejoin="round"/>
<circle cx="371.5" cy="914.2" r="18.0" fill="#fff" stroke="#808080" stroke-width="1.3"/><circle cx="371.5" cy="914.2" r="20.400000000000002" fill="none" stroke="#808080" stroke-width="1.2"/><text x="371.5" y="924.2" text-anchor="middle" font-family="Liberation Serif" font-weight="bold" font-size="31.5" fill="#0a0a0a">7</text>
<text x="0" y="0" transform="translate(339.7 868) scale(0.675 1)" font-family="Liberation Sans" font-weight="bold" font-size="50" fill="#0a0a0a">O</text>
<text x="0" y="0" transform="translate(364.7 868) scale(0.757 1)" font-family="Liberation Sans" font-weight="bold" font-size="50" fill="#0a0a0a">N</text>
<text x="628.2" y="0" transform="translate(0 939.7) scale(1 1.05)" font-family="Liberation Sans" font-size="41" fill="#0e0e0e"><tspan font-weight="bold">A</tspan> – 1 pcs</text>
<text x="628.2" y="0" transform="translate(0 988.9) scale(1 1.05)" font-family="Liberation Sans" font-size="41" fill="#0e0e0e"><tspan font-weight="bold">B</tspan> – 1 pcs</text>
<g fill="#fff"><rect x="705" y="935.5" width="8" height="4.6"/><rect x="717.05" y="935.5" width="7.5" height="4.6"/><rect x="705" y="984.5" width="8" height="4.6"/><rect x="717.05" y="984.5" width="7.5" height="4.6"/></g>
</svg>
<div class="t" style="top:1058.64px;font-size:30.2px;line-height:30.2px;word-spacing:0px;width:933px;text-align:justify;text-align-last:justify;white-space:normal;">1. Before installing the luminaire, disconnect the power supply by</div><div class="t" style="top:1095.10px;font-size:30.2px;line-height:30.2px;word-spacing:0.58px;">turning the circuit breaker or fuse on the electrical panel box.</div><div class="t" style="top:1131.56px;font-size:30.2px;line-height:30.2px;word-spacing:0.85px;">2. It is recommended to use gloves when assembling the luminaire.</div><div class="t" style="top:1168.02px;font-size:30.2px;line-height:30.2px;word-spacing:0px;width:933px;text-align:justify;text-align-last:justify;white-space:normal;">3. Do not use a lamp with a higher wattage than indicated on the</div><div class="t" style="top:1204.48px;font-size:30.2px;line-height:30.2px;word-spacing:0.5px;">special sticker located on the lamp base.</div><div class="t" style="top:1240.94px;font-size:30.2px;line-height:30.2px;word-spacing:0.7px;">4. When caring for the lamp, DO NOT use aggressive detergents.</div><div style="position:absolute;left:172.4px;top:1080.5px;width:6.5px;height:3.8px;background:#fff"></div><div style="position:absolute;left:181.05px;top:1080.5px;width:6.4px;height:3.8px;background:#fff"></div>
</body></html>
